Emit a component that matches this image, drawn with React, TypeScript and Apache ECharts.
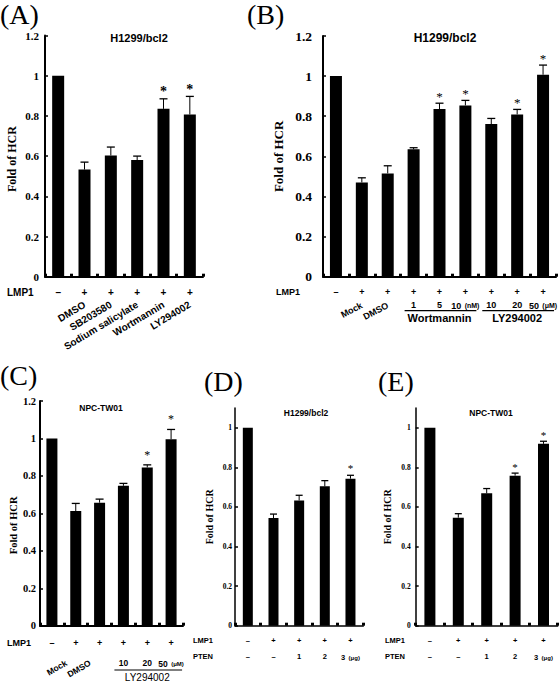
import React, { useEffect, useRef } from "react";
import * as echarts from "echarts";

const SERIF = '"Liberation Serif", "Times New Roman", serif';
const SANS = '"Liberation Sans", Arial, Helvetica, sans-serif';

// ---------- Panel A : H1299/bcl2, inhibitors ----------
const lmp1A = ["–", "+", "+", "+", "+", "+"];
const treatA = ["", "DMSO", "SB203580", "Sodium salicylate", "Wortmannin", "LY294002"];
const valA = [1.0, 0.533, 0.603, 0.58, 0.835, 0.807];
const errA = [0, 0.037, 0.042, 0.02, 0.05, 0.09];
const sigA = [0, 0, 0, 0, 1, 1];

// ---------- Panel B : H1299/bcl2, Wortmannin / LY294002 doses ----------
const lmp1B = ["–", "+", "+", "+", "+", "+", "+", "+", "+"];
const treatB = ["", "Mock", "DMSO", "", "", "", "", "", ""];
const doseB = ["", "", "", "1", "5", "10 (nM)", "10", "20", "50 (μM)"];
const groupB = ["", "", "", "", "Wortmannin", "", "", "LY294002", ""];
const spansB = [[3, 5], [6, 8]];
const valB = [1.0, 0.47, 0.515, 0.635, 0.836, 0.854, 0.761, 0.809, 1.007];
const errB = [0, 0.023, 0.038, 0.008, 0.029, 0.025, 0.028, 0.025, 0.048];
const sigB = [0, 0, 0, 0, 1, 1, 0, 1, 1];

// ---------- Panel C : NPC-TW01, LY294002 doses ----------
const lmp1C = ["–", "+", "+", "+", "+", "+"];
const treatC = ["", "Mock", "DMSO", "", "", ""];
const doseC = ["", "", "", "10", "20", "50 (μM)"];
const groupC = ["", "", "", "", "LY294002", ""];
const spansC = [[3, 5]];
const valC = [1.0, 0.612, 0.657, 0.747, 0.845, 0.996];
const errC = [0, 0.041, 0.019, 0.013, 0.014, 0.052];
const sigC = [0, 0, 0, 0, 1, 1];

// ---------- Panel D : H1299/bcl2, PTEN ----------
const lmp1D = ["–", "+", "+", "+", "+"];
const ptenD = ["–", "–", "1", "2", "3 (μg)"];
const valD = [1.0, 0.544, 0.633, 0.704, 0.743];
const errD = [0, 0.02, 0.026, 0.029, 0.017];
const sigD = [0, 0, 0, 0, 1];

// ---------- Panel E : NPC-TW01, PTEN ----------
const lmp1E = ["–", "+", "+", "+", "+"];
const ptenE = ["–", "–", "1", "2", "3 (μg)"];
const valE = [1.0, 0.546, 0.669, 0.758, 0.919];
const errE = [0, 0.02, 0.024, 0.013, 0.013];
const sigE = [0, 0, 0, 1, 1];

const unitFormatter = (v: string) => {
  const m = String(v).match(/^(\S+)\s+(\(.*\))$/);
  if (m) return `{n|${m[1]}} {u|${m[2]}}`;
  return v ? `{n|${v}}` : "";
};

export default function App() {
  const ref = useRef<HTMLDivElement>(null);
  useEffect(() => {
    const el = ref.current!;
    const chart = echarts.init(el, undefined, { renderer: "svg" });

    const panels = [
      { grid: { left: 45, top: 35.5, width: 158, height: 241.2 }, max: 1.2, vals: valA, errs: errA, sig: sigA,
        barWidth: 12, capW: 8, starSize: 14, starGap: 7, starBold: true,
        yFont: 11, yBold: true, yMargin: 6, nameFont: 12, nameGap: 27, namePad: 6, lineW: 2 },
      { grid: { left: 323, top: 36, width: 235, height: 240.7 }, max: 1.2, vals: valB, errs: errB, sig: sigB,
        barWidth: 12, capW: 8, starSize: 13, starGap: 7, starBold: false,
        yFont: 13.5, yBold: true, yMargin: 11, nameFont: 13, nameGap: 38, namePad: 0, lineW: 2 },
      { grid: { left: 40, top: 401, width: 143, height: 224.7 }, max: 1.2, vals: valC, errs: errC, sig: sigC,
        barWidth: 11, capW: 8, starSize: 12, starGap: 10, starBold: false,
        yFont: 10.5, yBold: true, yMargin: 4, nameFont: 10.5, nameGap: 21, namePad: 24, lineW: 2 },
      { grid: { left: 235, top: 408, width: 128.3, height: 217.7 }, max: 1.1, vals: valD, errs: errD, sig: sigD,
        barWidth: 10, capW: 7, starSize: 11, starGap: 7, starBold: false,
        yFont: 7.5, yBold: true, yMargin: 3, nameFont: 10, nameGap: 21, namePad: 0, lineW: 1.5 },
      { grid: { left: 415.7, top: 408, width: 142, height: 217.7 }, max: 1.1, vals: valE, errs: errE, sig: sigE,
        barWidth: 11, capW: 7, starSize: 11, starGap: 6, starBold: false,
        yFont: 7.5, yBold: true, yMargin: 5, nameFont: 10, nameGap: 23, namePad: 0, lineW: 1.5 },
    ];

    const grids = panels.map((p) => ({ ...p.grid, containLabel: false, show: false }));

    const yAxes = panels.map((p, i) => ({
      type: "value", gridIndex: i, min: 0, max: p.max, interval: 0.2,
      name: "Fold of HCR", nameLocation: "middle", nameGap: p.nameGap,
      nameTextStyle: { fontFamily: SERIF, fontWeight: "bold", fontSize: p.nameFont, color: "#000",
        padding: [0, p.namePad, 0, 0] },
      axisLine: { show: true, lineStyle: { color: "#000", width: p.lineW } },
      axisTick: { show: true, inside: true, length: 3, lineStyle: { color: "#000", width: 1.5 } },
      axisLabel: { fontFamily: SERIF, fontWeight: p.yBold ? "bold" : "normal", fontSize: p.yFont,
        color: "#000", margin: p.yMargin, showMaxLabel: p.max === 1.2 },
      splitLine: { show: false },
    }));

    const mainX = (gi: number, data: string[], font: number, margin: number, lineW: number) => ({
      type: "category", gridIndex: gi, data, position: "bottom",
      axisLine: { show: true, onZero: true, lineStyle: { color: "#000", width: lineW } },
      axisTick: { show: true, inside: true, length: 3, lineStyle: { color: "#000", width: 3 } },
      axisLabel: { interval: 0, fontFamily: SANS, fontWeight: "bold", fontSize: font, color: "#000", margin },
      splitLine: { show: false },
    });
    const labelX = (gi: number, data: string[], axisLabel: any) => ({
      type: "category", gridIndex: gi, data, position: "bottom",
      axisLine: { show: false }, axisTick: { show: false }, splitLine: { show: false },
      axisLabel: { interval: 0, color: "#000", fontFamily: SANS, fontWeight: "bold", ...axisLabel },
    });
    const richDose = (n: number, u: number) => ({
      n: { fontFamily: SANS, fontWeight: "bold", fontSize: n, color: "#000", lineHeight: n + 2, verticalAlign: "middle" },
      u: { fontFamily: SANS, fontWeight: "bold", fontSize: u, color: "#000", lineHeight: n + 2, verticalAlign: "middle" },
    });

    const xAxes = [
      mainX(0, lmp1A, 10, 11, 2), // 0
      labelX(0, treatA, { rotate: 31, fontSize: 10, margin: 27 }), // 1
      mainX(1, lmp1B, 9, 10.5, 2), // 2
      labelX(1, treatB, { rotate: 28, fontSize: 9, margin: 28 }), // 3
      labelX(1, doseB, { formatter: unitFormatter, rich: richDose(9, 7), margin: 23 }), // 4
      labelX(1, groupB, { fontSize: 11, margin: 36 }), // 5
      mainX(2, lmp1C, 9, 12.5, 2), // 6
      labelX(2, treatC, { rotate: 30, fontSize: 8.5, margin: 31, padding: [0, 11, 0, 0] }), // 7
      labelX(2, doseC, { formatter: unitFormatter, rich: richDose(8.5, 6), margin: 32 }), // 8
      labelX(2, groupC, { fontSize: 10, fontWeight: "normal", margin: 47 }), // 9
      mainX(3, lmp1D, 7.5, 10.5, 1.5), // 10
      labelX(3, ptenD, { formatter: unitFormatter, rich: richDose(7.5, 6), margin: 26 }), // 11
      mainX(4, lmp1E, 7.5, 10.5, 1.5), // 12
      labelX(4, ptenE, { formatter: unitFormatter, rich: richDose(7.5, 6), margin: 26 }), // 13
    ];
    const mainIdx = [0, 2, 6, 10, 12];

    const series: any[] = [];
    panels.forEach((p, i) => {
      series.push({
        type: "bar", xAxisIndex: mainIdx[i], yAxisIndex: i, data: p.vals,
        barWidth: p.barWidth, itemStyle: { color: "#000" }, silent: true,
      });
      series.push({
        type: "custom", xAxisIndex: mainIdx[i], yAxisIndex: i, silent: true, z: 5,
        itemStyle: { color: "#000" },
        data: p.vals.map((v, k) => [k, v, p.errs[k], p.sig[k]]),
        renderItem: (_params: any, api: any) => {
          const k = api.value(0), v = api.value(1), e = api.value(2), s = api.value(3);
          const base = api.coord([k, v]);
          const top = api.coord([k, v + e]);
          const children: any[] = [];
          if (e > 0) {
            children.push({ type: "line", shape: { x1: base[0], y1: base[1], x2: base[0], y2: top[1] },
              style: { stroke: "#000", lineWidth: 1 } });
            children.push({ type: "line", shape: { x1: top[0] - p.capW / 2, y1: top[1], x2: top[0] + p.capW / 2, y2: top[1] },
              style: { stroke: "#000", lineWidth: 1.3 } });
          }
          if (s) {
            children.push({ type: "text", x: top[0], y: top[1] - p.starGap,
              style: { legacy: false, text: "*", font: `${p.starBold ? "bold " : ""}${p.starSize}px ${SERIF}`,
                fill: "#000", align: "center", verticalAlign: "middle" } });
          }
          return { type: "group", children };
        },
      });
    });

    chart.setOption({
      animation: false,
      backgroundColor: "#fff",
      grid: grids,
      xAxis: xAxes,
      yAxis: yAxes,
      series,
    });

    const px = (xi: number, c: number) => chart.convertToPixel({ xAxisIndex: xi } as any, c) as unknown as number;
    const py = (yi: number, v: number) => chart.convertToPixel({ yAxisIndex: yi } as any, v) as unknown as number;

    const txt = (text: string, x: number, y: number, font: string, align = "left") => ({
      type: "text", x, y, silent: true,
      style: { text, font, fill: "#000", textAlign: align, textVerticalAlign: "middle" },
    });
    const graphic: any[] = [
      txt("(A)", 0, 14, `28px ${SERIF}`),
      txt("(B)", 247, 14, `28px ${SERIF}`),
      txt("(C)", 0, 375, `28px ${SERIF}`),
      txt("(D)", 204, 381, `28px ${SERIF}`),
      txt("(E)", 378, 381, `28px ${SERIF}`),
      txt("H1299/bcl2", 139, 38, `bold 11px ${SANS}`, "center"),
      txt("H1299/bcl2", 445, 38, `bold 12px ${SANS}`, "center"),
      txt("NPC-TW01", 101, 408, `bold 8.5px ${SANS}`, "center"),
      txt("H1299/bcl2", 306, 412.7, `bold 8.5px ${SANS}`, "center"),
      txt("NPC-TW01", 491, 412.7, `bold 8.5px ${SANS}`, "center"),
      txt("LMP1", 7, 292.7, `bold 10px ${SANS}`),
      txt("LMP1", 276, 291.7, `bold 9px ${SANS}`),
      txt("LMP1", 7, 642.7, `bold 9px ${SANS}`),
      txt("LMP1", 193, 640, `bold 7.5px ${SANS}`),
      txt("PTEN", 193, 656.7, `bold 7.5px ${SANS}`),
      txt("LMP1", 385, 640, `bold 7.5px ${SANS}`),
      txt("PTEN", 385, 656.7, `bold 7.5px ${SANS}`),
    ];
    const addSpans = (xi: number, yi: number, spans: number[][], dy: number) => {
      const y = py(yi, 0) + dy;
      spans.forEach(([a, b]) => {
        graphic.push({ type: "line", silent: true,
          shape: { x1: px(xi, a) - 9, y1: y, x2: px(xi, b) + 11, y2: y },
          style: { stroke: "#000", lineWidth: 1.2 } });
      });
    };
    addSpans(2, 1, spansB, 34);
    addSpans(6, 2, spansC, 44.3);

    chart.setOption({ graphic });

    return () => chart.dispose();
  }, []);

  return (
    <div
      ref={ref}
      style={{ position: "fixed", left: 0, top: 0, width: 560, height: 683, background: "#fff" }}
    />
  );
}
